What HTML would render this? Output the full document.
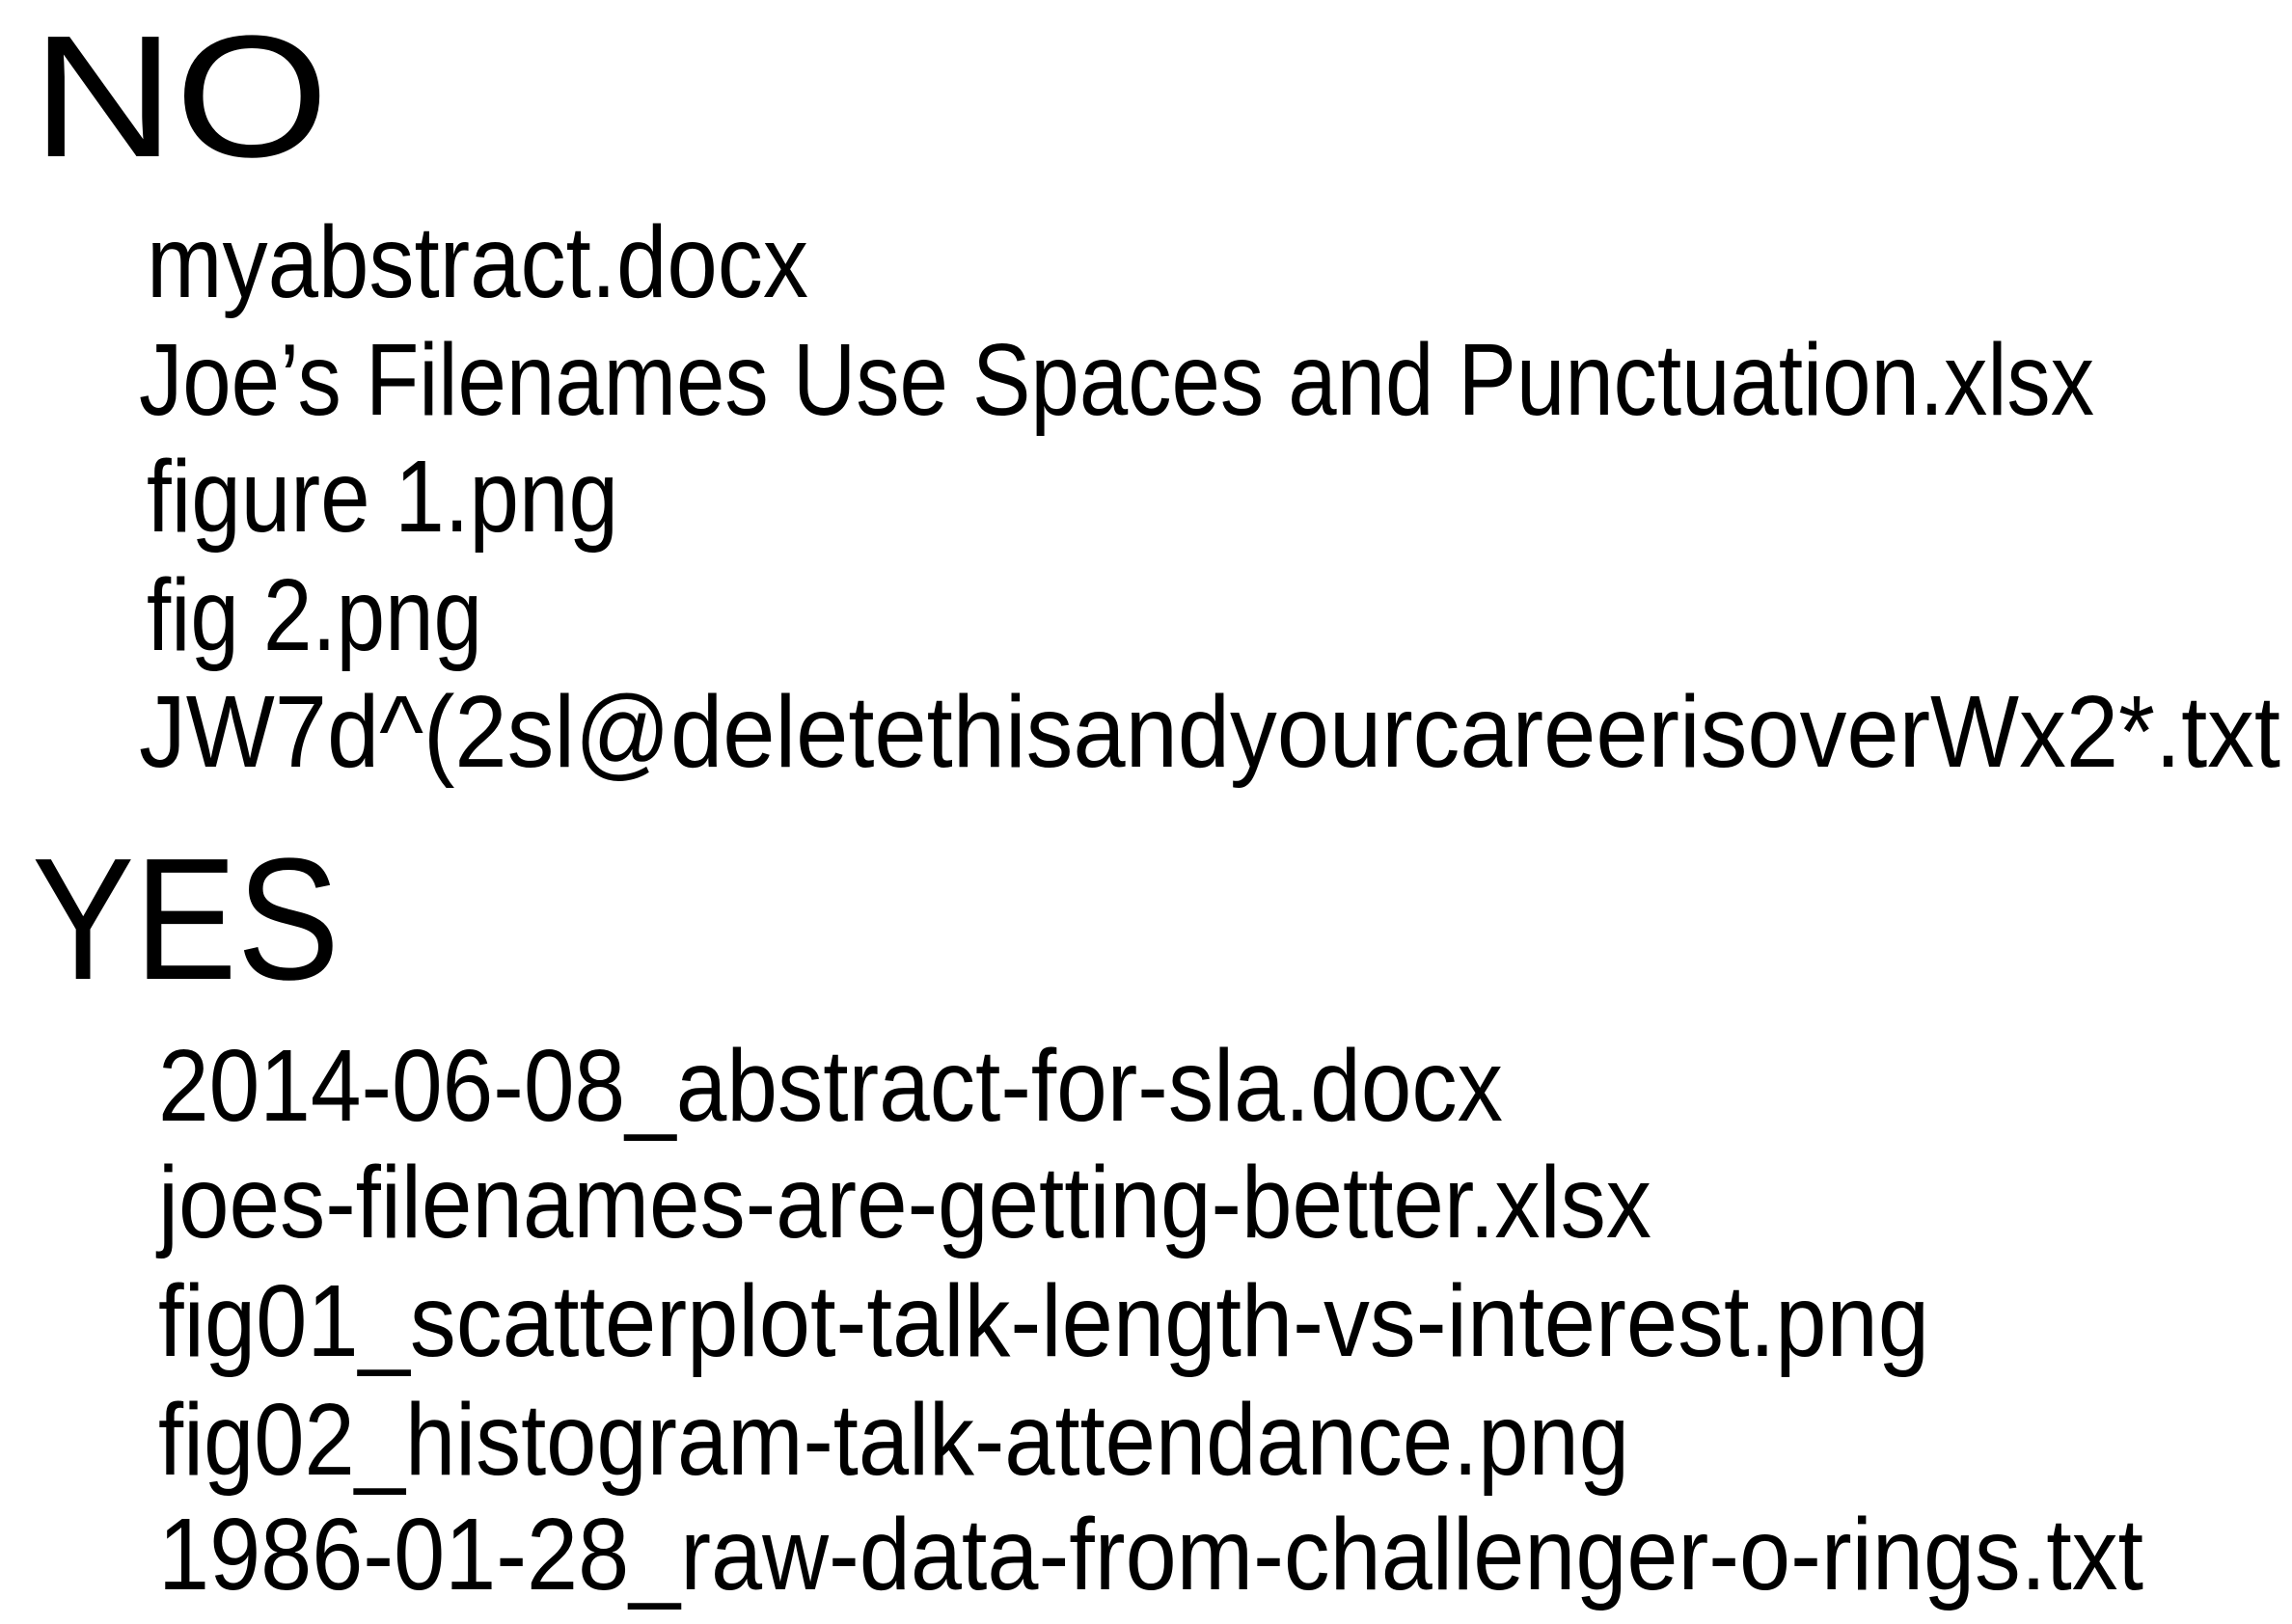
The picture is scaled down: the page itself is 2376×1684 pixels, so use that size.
<!DOCTYPE html>
<html><head><meta charset="utf-8"><style>
html,body{margin:0;padding:0;background:#fff;}
svg{display:block;}
text{font-family:"Liberation Sans",sans-serif;fill:#000;}
.h{font-size:180px;}
.i{font-size:106px;}
</style></head><body>
<svg width="2376" height="1684" viewBox="0 0 2376 1684" xmlns="http://www.w3.org/2000/svg">
<text class="h" x="33" y="162" textLength="308" lengthAdjust="spacingAndGlyphs">NO</text>
<text class="i" x="152" y="308" textLength="686" lengthAdjust="spacingAndGlyphs">myabstract.docx</text>
<text class="i" x="144" y="430" textLength="2027" lengthAdjust="spacingAndGlyphs">Joe’s Filenames Use Spaces and Punctuation.xlsx</text>
<text class="i" x="152" y="551" textLength="489" lengthAdjust="spacingAndGlyphs">figure 1.png</text>
<text class="i" x="152" y="674" textLength="348" lengthAdjust="spacingAndGlyphs">fig 2.png</text>
<text class="i" x="144" y="795" textLength="2220" lengthAdjust="spacingAndGlyphs">JW7d^(2sl@deletethisandyourcareerisoverWx2*.txt</text>
<text class="h" x="33" y="1015" textLength="319" lengthAdjust="spacingAndGlyphs">YES</text>
<text class="i" x="164" y="1162" textLength="1394" lengthAdjust="spacingAndGlyphs">2014-06-08_abstract-for-sla.docx</text>
<text class="i" x="164" y="1283" textLength="1548" lengthAdjust="spacingAndGlyphs">joes-filenames-are-getting-better.xlsx</text>
<text class="i" x="164" y="1406" textLength="1836" lengthAdjust="spacingAndGlyphs">fig01_scatterplot-talk-length-vs-interest.png</text>
<text class="i" x="164" y="1529" textLength="1525" lengthAdjust="spacingAndGlyphs">fig02_histogram-talk-attendance.png</text>
<text class="i" x="164" y="1648" textLength="2058" lengthAdjust="spacingAndGlyphs">1986-01-28_raw-data-from-challenger-o-rings.txt</text>
</svg>
</body></html>
